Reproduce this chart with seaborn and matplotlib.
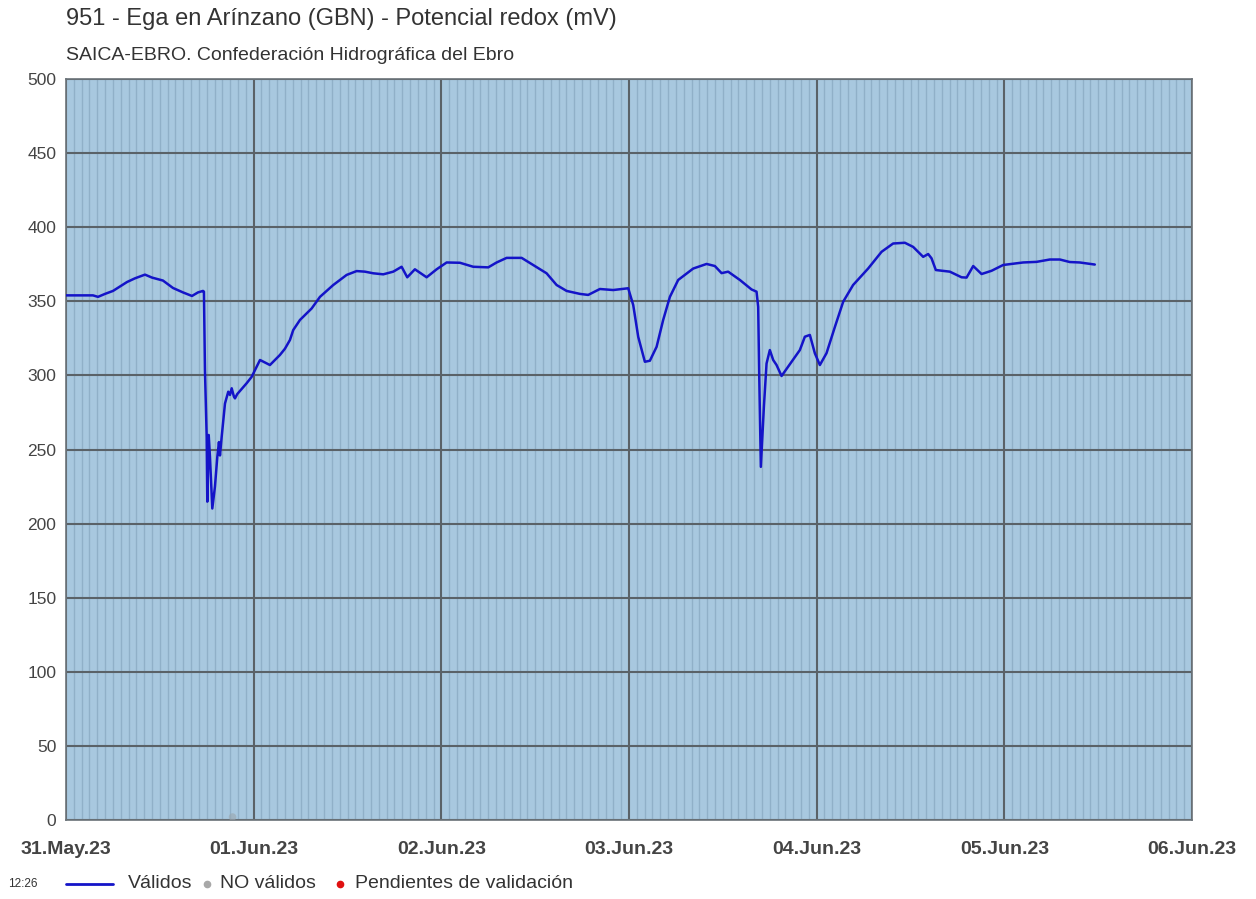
import matplotlib
matplotlib.use("Agg")
import matplotlib.pyplot as plt
import matplotlib.dates as mdates
from matplotlib.lines import Line2D
import numpy as np
import pandas as pd
import seaborn as sns

# Redox potential readings: hours since 31 May 2023 00:00 and value in mV
hours = [
    0.0, 3.45, 4.09, 4.99, 6.01, 7.80, 8.82, 10.10, 11.00, 12.40, 13.68, 14.96,
    16.11, 16.88, 17.52, 17.64, 17.77, 17.99, 18.07, 18.25, 18.41, 18.71, 19.05,
    19.35, 19.56, 19.69, 19.91, 20.33, 20.75, 20.97, 21.19, 21.48, 21.61, 21.90,
    23.10, 23.74, 24.81, 26.08, 27.36, 28.00, 28.64, 29.06, 29.92, 30.34, 31.42,
    32.48, 34.18, 35.89, 37.17, 38.23, 39.29, 40.57, 41.85, 42.92, 43.64, 44.62,
    46.12, 47.40, 48.68, 50.38, 52.08, 54.00, 55.07, 56.35, 58.27, 59.75, 61.46,
    62.74, 64.02, 65.72, 66.78, 68.28, 69.98, 71.90, 72.54, 73.18, 74.03, 74.67,
    75.53, 76.37, 77.23, 78.29, 79.57, 80.21, 81.92, 82.98, 83.84, 84.68, 86.18,
    87.67, 88.31, 88.52, 88.65, 88.86, 89.25, 89.59, 90.01, 90.44, 90.87, 91.51,
    92.79, 93.85, 94.49, 95.13, 95.77, 96.41, 97.26, 98.33, 99.39, 100.66,
    102.58, 104.30, 105.78, 107.28, 108.34, 109.62, 110.26, 110.69, 111.24,
    113.03, 114.53, 115.17, 116.02, 117.09, 118.37, 119.85, 122.40, 124.11,
    125.82, 127.10, 128.37, 129.65, 131.57,
]
redox_mv = [
    354, 354, 353, 355, 357, 363, 365.5, 368, 366, 364, 359, 356,
    353.6, 356, 357, 356.5, 303.6, 258.6, 214.8, 259.8, 245, 210.2, 225,
    245, 255, 246, 258.6, 281, 289, 286.8, 291.3, 285.6, 284.5, 287.4,
    294.7, 299, 310.4, 307, 313.8, 318, 323.9, 330.6, 337.4, 339.6, 345.2,
    353, 361, 367.8, 370.4, 370, 368.9, 368.2, 370, 373.3, 366.2, 371.6,
    366.2, 371.6, 376.2, 376, 373.3, 372.9, 376.2, 379.3, 379.3, 374.5, 368.9,
    361, 357, 355, 354.3, 358.3, 357.6, 358.8, 347.5, 326, 309.2, 309.9,
    319.3, 337.4, 353, 364.4, 369.5, 372.1, 375.2, 373.8, 369, 370, 364.4,
    358, 356.5, 346.3, 301.3, 238.3, 278.8, 308, 317.1, 310.4, 307, 299.6,
    309.2, 317.1, 326.1, 327.3, 314.9, 307, 315, 332.7, 349.7, 361,
    372.1, 383.4, 389, 389.5, 386.7, 380, 381.9, 379, 371.1,
    370, 366.2, 366, 373.8, 368.4, 370.6, 374.5, 376.2, 376.6,
    378.2, 378.2, 376.5, 376.2, 374.8,
]
# Readings flagged as not valid
invalid_hours = [21.3]
invalid_mv = [2]

start = pd.Timestamp("2023-05-31 00:00")
df = pd.DataFrame({
    "fecha": start + pd.to_timedelta(hours, unit="h"),
    "redox": redox_mv,
})
df_bad = pd.DataFrame({
    "fecha": start + pd.to_timedelta(invalid_hours, unit="h"),
    "redox": invalid_mv,
})

title = "951 - Ega en Arínzano (GBN) - Potencial redox (mV)"
subtitle = "SAICA-EBRO. Confederación Hidrográfica del Ebro"
y_ticks = list(range(0, 501, 50))
day_labels = ["31.May.23", "01.Jun.23", "02.Jun.23", "03.Jun.23",
              "04.Jun.23", "05.Jun.23", "06.Jun.23"]

LINE_BLUE = "#1414c8"
BG_BLUE = "#a8c8df"
TEXT = "#333333"

sns.set_style("white")
plt.rcParams["font.family"] = ["Liberation Sans", "DejaVu Sans"]

fig = plt.figure(figsize=(12.56, 8.99), dpi=100)
ax = fig.add_axes([66 / 1256, 1 - 820 / 899, (1192 - 66) / 1256, (820 - 79) / 899])
ax.set_facecolor(BG_BLUE)

sns.lineplot(data=df, x="fecha", y="redox", ax=ax, color=LINE_BLUE,
             linewidth=1.8, zorder=5)
sns.scatterplot(data=df_bad, x="fecha", y="redox", ax=ax, color="#9aa6ae",
                s=30, edgecolor="none", alpha=0.6, zorder=4)

x0 = start
x1 = start + pd.Timedelta(days=6)
ax.set_xlim(x0, x1)
ax.set_ylim(0, 500)

day_ticks = pd.date_range(x0, x1, freq="D")
ax.set_xticks(day_ticks)
ax.set_xticklabels(day_labels)
ax.xaxis.set_minor_locator(mdates.HourLocator())
ax.set_yticks(y_ticks)
ax.set_yticklabels([str(v) for v in y_ticks])

ax.grid(which="minor", axis="x", color="#90b0c8", linewidth=1.0, zorder=1)
ax.grid(which="major", axis="both", color="#5a6268", linewidth=1.5, zorder=2)
ax.set_axisbelow(True)

for s in ax.spines.values():
    s.set_color("#6a7278")
    s.set_linewidth(1.2)

ax.tick_params(axis="both", which="both", length=0)
ax.tick_params(axis="y", labelsize=12.5, labelcolor="#444444", pad=7)
ax.tick_params(axis="x", labelsize=14, labelcolor="#444444", pad=15)
for lbl in ax.get_xticklabels():
    lbl.set_fontweight("bold")
ax.set_xlabel("")
ax.set_ylabel("")

fig.text(66 / 1256, 1 - 19 / 899, title, fontsize=17, color=TEXT,
         ha="left", va="center")
fig.text(66 / 1256, 1 - 56 / 899, subtitle, fontsize=14, color=TEXT,
         ha="left", va="center")

# Series key along the bottom
ky = 1 - 884 / 899
fig.text(8 / 1256, ky, "12:26", fontsize=8.5, color=TEXT, ha="left", va="center")
fig.add_artist(Line2D([66 / 1256, 113 / 1256], [ky, ky], color=LINE_BLUE,
                      linewidth=2, transform=fig.transFigure))
fig.text(128 / 1256, ky, "Válidos", fontsize=14, color=TEXT, ha="left", va="center")
fig.add_artist(Line2D([207 / 1256], [ky], marker="o", markersize=4.5, color="#a8a8a8",
                      linestyle="none", transform=fig.transFigure))
fig.text(220 / 1256, ky, "NO válidos", fontsize=14, color=TEXT, ha="left", va="center")
fig.add_artist(Line2D([340 / 1256], [ky], marker="o", markersize=4.5, color="#e01010",
                      linestyle="none", transform=fig.transFigure))
fig.text(355 / 1256, ky, "Pendientes de validación", fontsize=14, color=TEXT,
         ha="left", va="center")

fig.savefig("out.png", dpi=100, facecolor="white")
